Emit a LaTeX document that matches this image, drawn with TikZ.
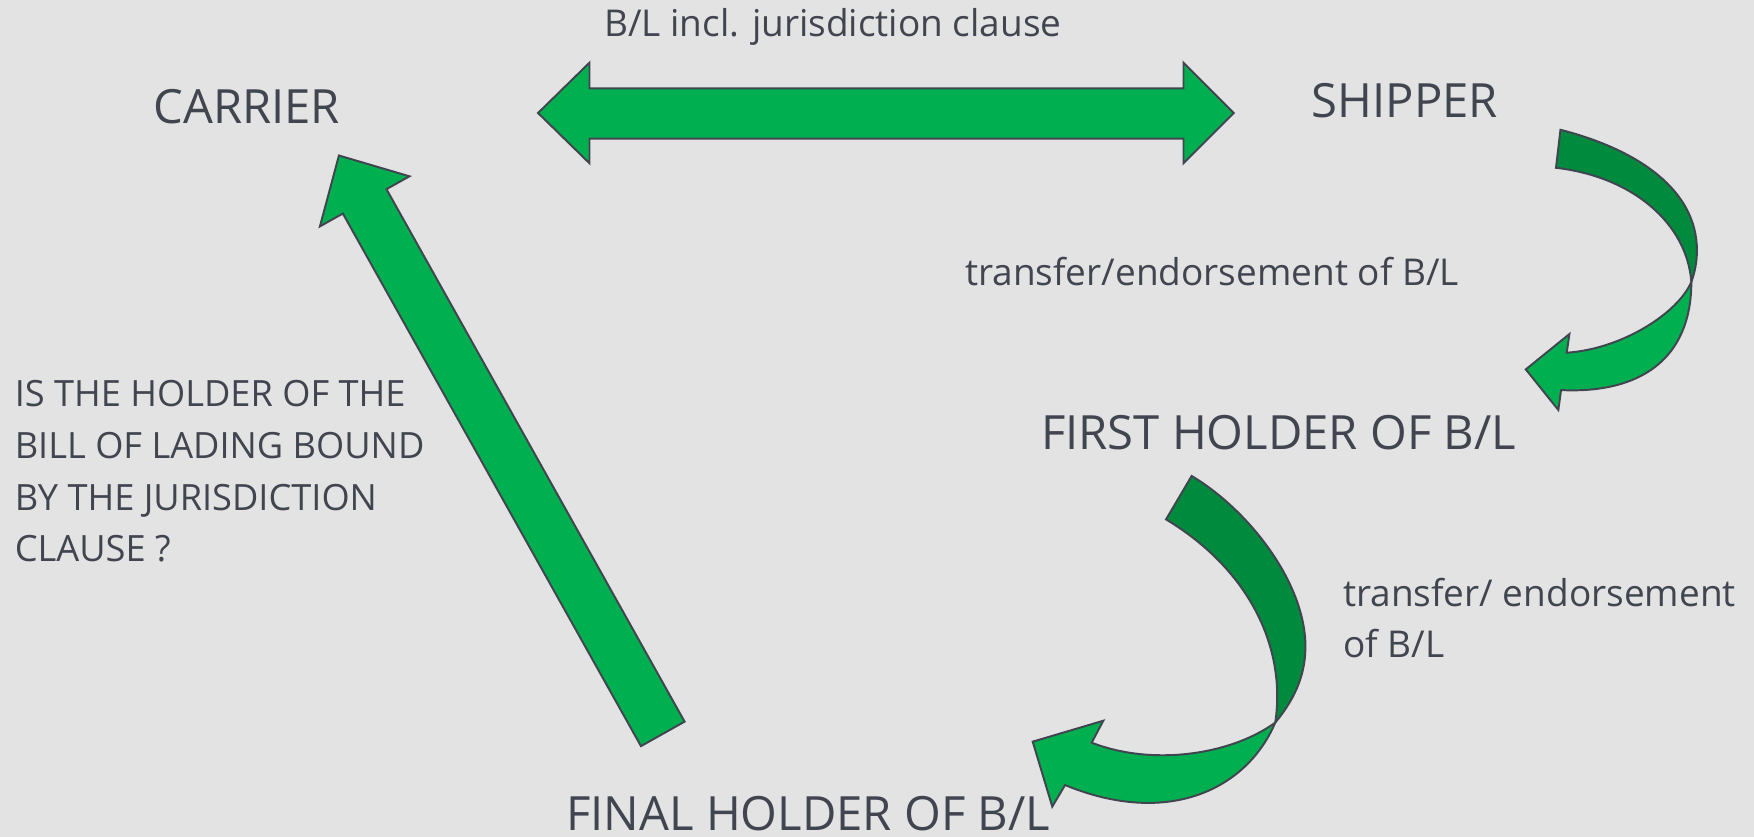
\documentclass[tikz,border=0pt]{standalone}
\usepackage{fontspec}
\setmainfont{Open Sans}
\definecolor{bg}{RGB}{227,227,227}
\definecolor{arrowgreen}{RGB}{0,176,80}
\definecolor{foldgreen}{RGB}{0,138,62}
\definecolor{ink}{RGB}{64,69,80}
\begin{document}
\begin{tikzpicture}[x=0.01cm,y=-0.01cm,
  blockarrow/.style={fill=arrowgreen,draw=ink,line width=0.5pt},
  backface/.style={fill=foldgreen,draw=ink,line width=0.5pt},
  party/.style={text=ink,font=\fontsize{12}{14}\selectfont,inner sep=0pt},
  note/.style={text=ink,font=\fontsize{9.4}{13.1}\selectfont,inner sep=0pt},
  question/.style={text=ink,font=\fontsize{9.2}{13.1}\selectfont,inner sep=0pt,align=left}]
  \fill[bg] (0,0) rectangle (1568,748);
  \useasboundingbox (0,0) rectangle (1568,748);

  \node[party,anchor=base] (carrier) at (220.5,110) {CARRIER};
  \node[party,anchor=base] (shipper) at (1256,105) {SHIPPER};
  \node[party,anchor=base] (first) at (1143,402) {FIRST HOLDER OF B/L};
  \node[party,anchor=base] (final) at (722.5,742) {FINAL HOLDER OF B/L};
  \node[note,anchor=base] (clause) at (744.5,33) {B/L incl. jurisdiction clause};
  \node[note,anchor=base] (transfer) at (1083.5,255) {transfer/endorsement of B/L};
  \node[note,anchor=base west,align=left] (transferb) at (1200,588) {transfer/ endorsement\\of B/L};
  \node[question,anchor=base west] (ask) at (12.5,502) {IS THE HOLDER OF THE\\BILL OF LADING BOUND\\BY THE JURISDICTION\\CLAUSE ?};

  \draw[blockarrow] (481,101) -- (527,56) -- (527,79) -- (1058,79) -- (1058,56) -- (1103,101)
    -- (1058,146) -- (1058,124) -- (527,124) -- (527,146) -- cycle;

  \draw[blockarrow] (573,667) -- (306.5,190.9) -- (286,202.4) -- (303,139) -- (366,157.6)
    -- (345.5,169.1) -- (612,645.1) -- cycle;

  \draw[backface] (1395,116) .. controls (1465,134) and (1517,170) .. (1517,224)
    .. controls (1517,234) and (1515,244) .. (1512,252)
    .. controls (1508,200) and (1460,158) .. (1391,150) -- cycle;
  \draw[blockarrow] (1512,252) .. controls (1500,280) and (1450,312) .. (1400.6,315.3)
    -- (1403,298.6) -- (1364,330.2) -- (1393.1,366.5) -- (1395.5,348.7)
    .. controls (1465,352) and (1512,322) .. (1512,252) -- cycle;

  \draw[backface] (1065.3,425.5) .. controls (1115,455) and (1167,520) .. (1167,578)
    .. controls (1167,600) and (1160,622) .. (1140,646)
    .. controls (1150,580) and (1118,510) .. (1042.4,464.3) -- cycle;
  \draw[blockarrow] (1140,646) .. controls (1100,675) and (1030,685) .. (975.9,663.9)
    -- (986.3,644.3) -- (923.2,663) -- (940.7,721.1) -- (952.1,701.8)
    .. controls (1045,740) and (1115,705) .. (1140,646) -- cycle;
\end{tikzpicture}
\end{document}
